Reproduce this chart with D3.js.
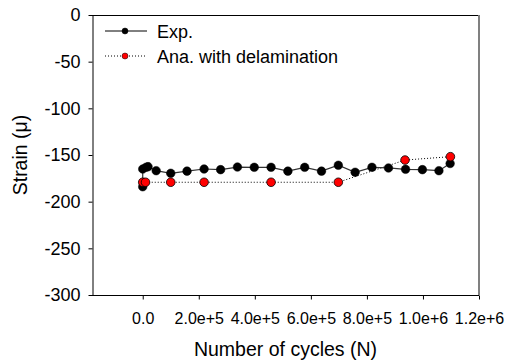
<!DOCTYPE html>
<html><head><meta charset="utf-8">
<script src="https://cdn.jsdelivr.net/npm/d3@7"></script>
<style>body{margin:0;background:#fff}svg{display:block}text{font-family:Arial,"Liberation Sans",sans-serif}</style>
</head><body>
<svg id="c" width="511" height="363"></svg>
<script>
const expN = [0, 0, 12000, 19000, 48000, 100000, 158000, 219000, 278000, 338000, 398000, 458000, 518000, 578000, 638000, 698000, 758000, 818000, 877000, 938000, 998000, 1057000, 1097000];
const expStrain = [-184, -165, -163.2, -162.5, -166.8, -169.6, -167.3, -165, -165.7, -162.9, -163.2, -163.2, -167.3, -163.2, -167.3, -161, -168.5, -163.2, -163.9, -165.3, -165.7, -166.8, -159.1];
const anaN = [0, 10000, 100000, 219000, 458000, 698000, 936000, 1098000];
const anaStrain = [-179.2, -179.2, -179.2, -179.2, -179.2, -179.2, -155.4, -151.8];
const xTicks = [0, 200000, 400000, 600000, 800000, 1000000, 1200000];
const xTickLabels = ["0.0", "2.0e+5", "4.0e+5", "6.0e+5", "8.0e+5", "1.0e+6", "1.2e+6"];
const yTicks = [0, -50, -100, -150, -200, -250, -300];
const seriesNames = ["Exp.", "Ana. with delamination"];

const svg = d3.select("#c");
const L = 92, R = 479, T = 15, B = 295;
const x = d3.scaleLinear().domain([-181000, 1200000]).range([L, R]);
const y = d3.scaleLinear().domain([-300, 0]).range([B, T]);

// frame
svg.append("line").attr("x1", L).attr("x2", R).attr("y1", T + 0.5).attr("y2", T + 0.5).attr("stroke", "#000");
svg.append("line").attr("x1", R).attr("x2", R).attr("y1", T).attr("y2", B).attr("stroke", "#808080").attr("stroke-width", 2);

// axes
const xAxis = d3.axisBottom(x).tickValues(xTicks).tickFormat((d, i) => xTickLabels[i]).tickSize(4).tickSizeOuter(0);
const gx = svg.append("g").attr("transform", `translate(0,${B + 0.5})`).call(xAxis);
gx.select(".domain").attr("d", `M${L},0H${R}`);
gx.selectAll("text").attr("font-size", 16).attr("fill", "#000").attr("y", 28).attr("dy", null);

const yAxis = d3.axisLeft(y).tickValues(yTicks).tickFormat(d => String(d)).tickSize(4).tickSizeOuter(0);
const gy = svg.append("g").attr("transform", `translate(${L + 0.5},0)`).call(yAxis);
gy.selectAll("text").attr("font-size", 18).attr("fill", "#000").attr("x", -12);
svg.selectAll(".domain, .tick line").attr("stroke", "#000");

svg.append("text").attr("x", (L + R) / 2).attr("y", 356).attr("text-anchor", "middle").attr("font-size", 19.5).text("Number of cycles (N)");
svg.append("text").attr("transform", `translate(27,${(T + B) / 2}) rotate(-90)`).attr("text-anchor", "middle").attr("font-size", 19.5).text("Strain (\u03bc)");

const exp = expN.map((n, i) => [n, expStrain[i]]);
const ana = anaN.map((n, i) => [n, anaStrain[i]]);
const line = d3.line().x(d => x(d[0])).y(d => y(d[1]));

svg.append("path").datum(ana).attr("d", line).attr("fill", "none").attr("stroke", "#000").attr("stroke-width", 1).attr("stroke-dasharray", "1,2");
svg.append("path").datum(exp).attr("d", line).attr("fill", "none").attr("stroke", "#333").attr("stroke-width", 1.2);

svg.selectAll("circle.exp").data(exp).join("circle").attr("class", "exp")
  .attr("cx", d => x(d[0])).attr("cy", d => y(d[1])).attr("r", 4.3).attr("fill", "#000").attr("stroke", "#000").attr("stroke-width", 0.5);
svg.selectAll("circle.ana").data(ana).join("circle").attr("class", "ana")
  .attr("cx", d => x(d[0])).attr("cy", d => y(d[1])).attr("r", 4.3).attr("fill", "#ff0000").attr("stroke", "#000").attr("stroke-width", 0.8);

// legend
const lg = svg.append("g");
[[31, "solid", "#000"], [56, "dot", "#ff0000"]].forEach((s, i) => {
  const ly = s[0];
  lg.append("line").attr("x1", 105).attr("x2", 147).attr("y1", ly).attr("y2", ly).attr("stroke", "#000")
    .attr("stroke-dasharray", s[1] === "dot" ? "1,2" : null);
  lg.append("circle").attr("cx", 125).attr("cy", ly).attr("r", 3).attr("fill", s[2]).attr("stroke", "#000").attr("stroke-width", 0.5);
  lg.append("text").attr("x", 157).attr("y", ly + 6.5).attr("font-size", 18).text(seriesNames[i]);
});
</script>
</body></html>
